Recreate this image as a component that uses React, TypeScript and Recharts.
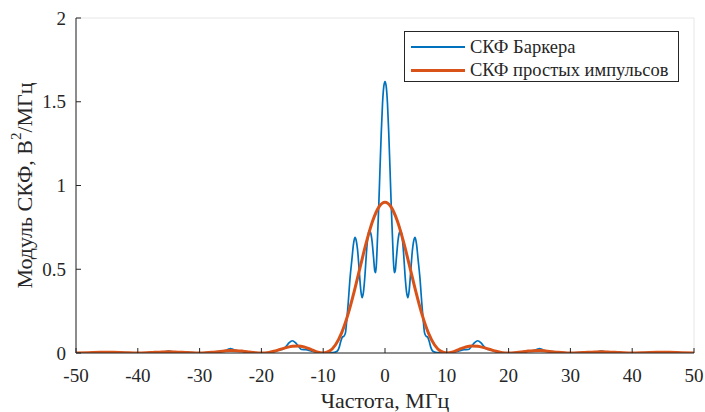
import React from 'react';
import { LineChart, Line, XAxis, YAxis, CartesianGrid } from 'recharts';

const barkerFreq = [
  -50, -48, -46, -45, -44, -42, -40, -38, -36.2, -35.4, -35, -34.6, -33.8, -32, -30,
  -28.5, -27, -25.8, -25.3, -25, -24.7, -24.2, -23, -21.5, -20,
  -18.7, -17.8, -17.1, -16.5, -16, -15.5, -15, -14.5, -14, -13.5, -12.8, -12, -11, -10,
  -9, -8.2, -7.7, -7.4, -7.15, -6.9, -6.65, -6.4, -6.2, -5.95, -5.65, -5.35, -5.1, -4.87,
  -4.65, -4.4, -4.15, -3.9, -3.7, -3.5, -3.25, -3, -2.75, -2.55, -2.35, -2.1, -1.85, -1.65,
  -1.5, -1.35, -1.2, -1, -0.8, -0.6, -0.4, -0.2, 0,
  0.2, 0.4, 0.6, 0.8, 1, 1.2, 1.35, 1.5, 1.65, 1.85, 2.1, 2.35, 2.55, 2.75, 3, 3.25, 3.5,
  3.7, 3.9, 4.15, 4.4, 4.65, 4.87, 5.1, 5.35, 5.65, 5.95, 6.2, 6.4, 6.65, 6.9, 7.15, 7.4,
  7.7, 8.2, 9, 10, 11, 12, 12.8, 13.5, 14, 14.5, 15, 15.5, 16, 16.5, 17.1, 17.8, 18.7, 20,
  21.5, 23, 24.2, 24.7, 25, 25.3, 25.8, 27, 28.5, 30, 32, 33.8, 34.6, 35, 35.4, 36.2, 38,
  40, 42, 44, 45, 46, 48, 50,
];
const barkerValue = [
  0, 0.001, 0.004, 0.006, 0.004, 0.002, 0, 0.002, 0.005, 0.009, 0.011, 0.009, 0.006, 0.003, 0,
  0.003, 0.008, 0.014, 0.023, 0.026, 0.023, 0.016, 0.01, 0.004, 0,
  0.003, 0.009, 0.018, 0.022, 0.04, 0.062, 0.073, 0.062, 0.04, 0.021, 0.02, 0.013, 0.005, 0,
  0.002, 0.004, 0.012, 0.035, 0.07, 0.095, 0.1, 0.12, 0.19, 0.3, 0.45, 0.56, 0.65, 0.69,
  0.67, 0.6, 0.48, 0.37, 0.33, 0.36, 0.46, 0.6, 0.7, 0.73, 0.72, 0.67, 0.57, 0.49,
  0.48, 0.56, 0.7, 0.89, 1.11, 1.32, 1.49, 1.59, 1.62,
  1.59, 1.49, 1.32, 1.11, 0.89, 0.7, 0.56, 0.48, 0.49, 0.57, 0.67, 0.72, 0.73, 0.7, 0.6, 0.46, 0.36,
  0.33, 0.37, 0.48, 0.6, 0.67, 0.69, 0.65, 0.56, 0.45, 0.3, 0.19, 0.12, 0.1, 0.095, 0.07, 0.035,
  0.012, 0.004, 0.002, 0, 0.005, 0.013, 0.02, 0.021, 0.04, 0.062, 0.073, 0.062, 0.04, 0.022, 0.018, 0.009, 0.003, 0,
  0.004, 0.01, 0.016, 0.023, 0.026, 0.023, 0.014, 0.008, 0.003, 0, 0.003, 0.006, 0.009, 0.011, 0.009, 0.005, 0.002,
  0, 0.002, 0.004, 0.006, 0.004, 0.001, 0,
];

const pulseFreq = [
  -50, -48, -46, -45, -44, -42, -40, -38, -36, -35, -34, -32, -30,
  -29, -28, -27, -26, -25, -24, -23, -22, -21, -20,
  -19, -18, -17, -16, -15, -14, -13, -12, -11, -10,
  -9, -8, -7, -6, -5, -4, -3, -2, -1, 0,
  1, 2, 3, 4, 5, 6, 7, 8, 9, 10,
  11, 12, 13, 14, 15, 16, 17, 18, 19, 20,
  21, 22, 23, 24, 25, 26, 27, 28, 29, 30,
  32, 34, 35, 36, 38, 40, 42, 44, 45, 46, 48, 50,
];
const pulseValue = [
  0, 0.0018, 0.004, 0.0044, 0.0039, 0.0017, 0, 0.003, 0.0066, 0.0074, 0.0065, 0.003, 0,
  0.001, 0.004, 0.008, 0.012, 0.0146, 0.014, 0.011, 0.0065, 0.002, 0,
  0.002, 0.01, 0.021, 0.032, 0.04, 0.042, 0.035, 0.022, 0.007, 0,
  0.011, 0.049, 0.122, 0.229, 0.365, 0.516, 0.663, 0.788, 0.871, 0.9,
  0.871, 0.788, 0.663, 0.516, 0.365, 0.229, 0.122, 0.049, 0.011, 0,
  0.007, 0.022, 0.035, 0.042, 0.04, 0.032, 0.021, 0.01, 0.002, 0,
  0.002, 0.0065, 0.011, 0.014, 0.0146, 0.012, 0.008, 0.004, 0.001, 0,
  0.003, 0.0065, 0.0074, 0.0066, 0.003, 0, 0.0017, 0.0039, 0.0044, 0.004, 0.0018, 0,
];

const xTicks = [-50, -40, -30, -20, -10, 0, 10, 20, 30, 40, 50];
const yTicks = [0, 0.5, 1, 1.5, 2];
const seriesNames = ['СКФ Баркера', 'СКФ простых импульсов'];
const seriesColors = ['#0072BD', '#D95319'];
const xTitle = 'Частота, МГц';
const yTitleMain = 'Модуль СКФ, В';
const yTitleSup = '2';
const yTitleTail = '/МГц';

const barkerData = barkerFreq.map((f, i) => ({ f, v: barkerValue[i] }));
const pulseData = pulseFreq.map((f, i) => ({ f, v: pulseValue[i] }));

const FONT = '"Liberation Serif", "Times New Roman", serif';
const AX = '#262626';

const W = 705;
const H = 412;
const PL = 76, PR = 694, PT = 18, PB = 353;

export default function App() {
  return (
    <div style={{ position: 'relative', width: W, height: H, background: '#fff', fontFamily: FONT }}>
      <style>{'body{margin:0} svg text{font-family:"Liberation Serif","Times New Roman",serif}'}</style>
      <LineChart
        width={W}
        height={H}
        style={{ fontFamily: FONT }}
        margin={{ top: PT, right: W - PR, left: 0, bottom: 0 }}
      >
        <CartesianGrid stroke="#e6e6e6" strokeWidth={1} />
        <XAxis
          xAxisId="b"
          dataKey="f"
          type="number"
          domain={[-50, 50]}
          ticks={xTicks}
          height={H - PB}
          stroke={AX}
          tickSize={-5}
          tickMargin={21}
          tick={{ fill: AX, fontSize: 19, fontFamily: FONT }}
          interval={0}
          allowDataOverflow
        />
        <XAxis
          xAxisId="t"
          orientation="top"
          dataKey="f"
          type="number"
          domain={[-50, 50]}
          ticks={xTicks}
          height={0}
          stroke={AX}
          tickSize={-5}
          tick={false}
          allowDataOverflow
        />
        <YAxis
          yAxisId="l"
          type="number"
          domain={[0, 2]}
          ticks={yTicks}
          width={PL}
          stroke={AX}
          tickSize={-5}
          tickMargin={15}
          tick={{ fill: AX, fontSize: 19, fontFamily: FONT }}
          interval={0}
          allowDataOverflow
        />
        <YAxis
          yAxisId="r"
          orientation="right"
          type="number"
          domain={[0, 2]}
          ticks={yTicks}
          width={0}
          stroke={AX}
          tickSize={-5}
          tick={false}
          allowDataOverflow
        />
        <Line
          xAxisId="b"
          yAxisId="l"
          data={barkerData}
          dataKey="v"
          type="monotone"
          stroke={seriesColors[0]}
          strokeWidth={1.7}
          dot={false}
          isAnimationActive={false}
          name={seriesNames[0]}
        />
        <Line
          xAxisId="b"
          yAxisId="l"
          data={pulseData}
          dataKey="v"
          type="monotone"
          stroke={seriesColors[1]}
          strokeWidth={3}
          dot={false}
          isAnimationActive={false}
          name={seriesNames[1]}
        />
        <text
          x={(PL + PR) / 2}
          y={400}
          textAnchor="middle"
          dominantBaseline="central"
          fontFamily={FONT}
          fontSize={22}
          fill={AX}
        >
          {xTitle}
        </text>
        <text
          x={24}
          y={(PT + PB) / 2}
          transform={`rotate(-90, 24, ${(PT + PB) / 2})`}
          textAnchor="middle"
          dominantBaseline="central"
          fontFamily={FONT}
          fontSize={22}
          fill={AX}
        >
          {yTitleMain}
          <tspan dy={-8} fontSize={15}>{yTitleSup}</tspan>
          <tspan dy={8}>{yTitleTail}</tspan>
        </text>
      </LineChart>
      <div
        style={{
          position: 'absolute',
          left: 404,
          top: 31,
          width: 275,
          height: 51,
          boxSizing: 'border-box',
          border: `1px solid ${AX}`,
          background: '#fff',
          fontFamily: FONT,
          fontSize: 18.5,
          color: AX,
        }}
      >
        {seriesNames.map((n, i) => (
          <div
            key={n}
            style={{
              position: 'absolute',
              left: 6,
              top: 4 + i * 23,
              height: 22,
              display: 'flex',
              alignItems: 'center',
              whiteSpace: 'nowrap',
            }}
          >
            <span
              style={{
                display: 'inline-block',
                width: 54,
                height: i === 0 ? 2 : 3,
                background: seriesColors[i],
                marginRight: 5,
              }}
            />
            <span>{n}</span>
          </div>
        ))}
      </div>
    </div>
  );
}
